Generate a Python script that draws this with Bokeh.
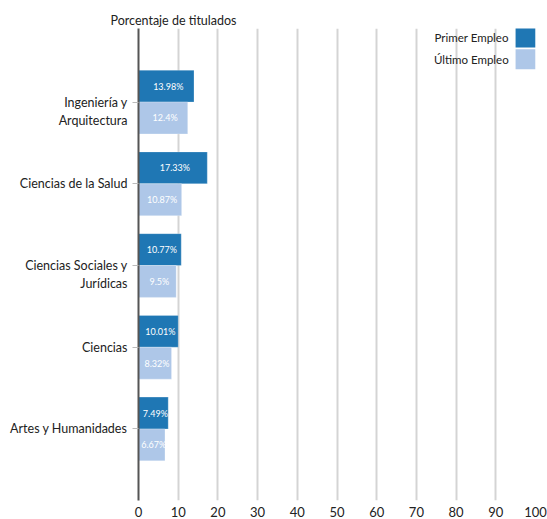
from bokeh.plotting import figure
from bokeh.models import Range1d, FixedTicker, ColumnDataSource
from bokeh.core.properties import value
from bokeh.embed import file_html
from bokeh.resources import INLINE

categories = ["Ingeniería y\nArquitectura", "Ciencias de la Salud",
              "Ciencias Sociales y\nJurídicas", "Ciencias", "Artes y Humanidades"]
primer_empleo = [13.98, 17.33, 10.77, 10.01, 7.49]
ultimo_empleo = [12.4, 10.87, 9.5, 8.32, 6.67]
series_names = ["Primer Empleo", "Último Empleo"]
colors = ["#1f77b4", "#aec7e8"]
x_ticks = list(range(0, 101, 10))

FONT = "Lato"
n = len(categories)
rows = [n - 1 - i for i in range(n)]
bar_h = 0.39
y_top = n - 1 + 0.9
y_bottom = -0.875

W, H = 547, 519
p = figure(width=W, height=H, output_backend="svg", toolbar_location=None,
           x_range=Range1d(0, 100), y_range=Range1d(y_bottom, y_top),
           min_border_left=138, min_border_right=12, min_border_top=28, min_border_bottom=0)
p.outline_line_color = None
p.background_fill_color = "white"

src1 = ColumnDataSource(dict(y=[r + bar_h / 2 for r in rows], v=primer_empleo,
                             half=[v / 2 for v in primer_empleo],
                             lab=[f"{v}%" for v in primer_empleo]))
src2 = ColumnDataSource(dict(y=[r - bar_h / 2 for r in rows], v=ultimo_empleo,
                             half=[v / 2 for v in ultimo_empleo],
                             lab=[f"{v}%" for v in ultimo_empleo]))

for src, c in ((src1, colors[0]), (src2, colors[1])):
    p.hbar(y="y", left=0, right="v", height=bar_h, source=src, fill_color=c,
           line_color="white", line_alpha=0.25, line_width=1)
    p.text(x="half", y="y", text="lab", source=src, text_color="white",
           text_font=value(FONT), text_font_size="9px", text_align="center",
           text_baseline="middle", x_offset=2)

# frame pixel scale (approx.) for layout offsets
frame_h = H - 28 - 16
px_per_unit = frame_h / (y_top - y_bottom)

# legend (swatch to the right of text)
leg_y = [y_top - 9 / px_per_unit, y_top - 31 / px_per_unit]
p.rect(x=[97.5, 97.5], y=leg_y, width=20, height=20, width_units="screen",
       height_units="screen", fill_color=colors, line_color=None)
p.text(x=[95, 95], y=leg_y, text=series_names, text_font=value(FONT),
       text_font_size="11.5px", text_color="#222", text_align="right",
       text_baseline="middle", x_offset=-7)

# grid
p.xgrid.ticker = FixedTicker(ticks=x_ticks)
p.xgrid.grid_line_color = "#d4d4d4"
p.xgrid.grid_line_width = 2
p.ygrid.grid_line_color = None

# x axis
xa = p.xaxis[0]
xa.ticker = FixedTicker(ticks=x_ticks)
xa.axis_line_color = None
xa.major_tick_line_color = None
xa.minor_tick_line_color = None
xa.major_label_text_font = FONT
xa.major_label_text_font_size = "13px"
xa.major_label_text_color = "#222"
xa.major_label_standoff = 0

# y axis: first line of each label sits at its tick
def tick_label(c):
    return (" \n" + c) if "\n" in c else c

ya = p.yaxis[0]
ya.ticker = FixedTicker(ticks=rows)
ya.major_label_overrides = {r: tick_label(c) for r, c in zip(rows, categories)}
ya.axis_line_color = "#555555"
ya.axis_line_width = 2
ya.major_tick_line_color = "#bbbbbb"
ya.major_tick_out = 6
ya.major_tick_in = 0
ya.minor_tick_line_color = None
ya.major_label_text_font = FONT
ya.major_label_text_font_size = "12.5px"
ya.major_label_text_color = "#222"
ya.major_label_standoff = 5

# title
p.title.text = "Porcentaje de titulados"
p.title.text_font = FONT
p.title.text_font_size = "12.5px"
p.title.text_font_style = "normal"
p.title.text_color = "#222"
p.title.align = "left"
p.title.offset = -28
p.title.standoff = 1

open("out.html", "w").write(file_html(p, INLINE))
